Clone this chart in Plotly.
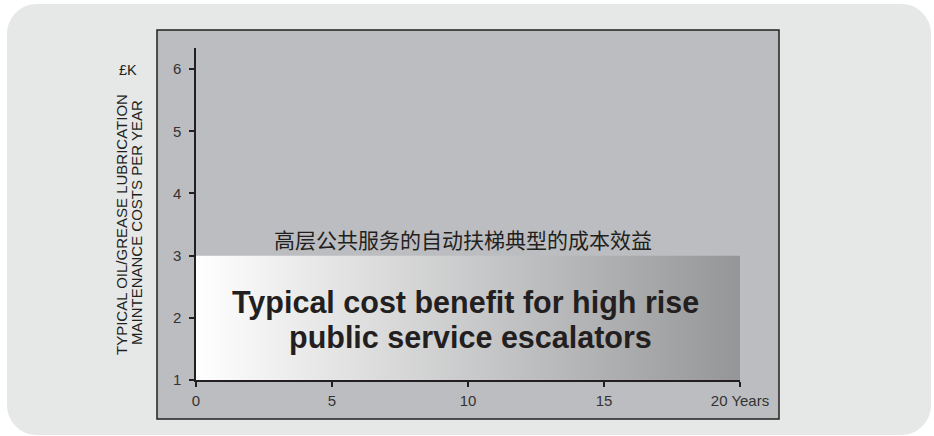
import plotly.graph_objects as go

# ---- data ----
years = [0, 20]              # span covered by the cost-benefit band
band_top = 3                 # £K upper level of band
band_base = 1                # £K base level of band
x_tickvals = [0, 5, 10, 15, 20]
x_ticktext = ["0", "5", "10", "15", "20 Years"]
y_tickvals = [1, 2, 3, 4, 5, 6]
y_ticktext = ["1", "2", "3", "4", "5", "6"]
title_cn = "高层公共服务的自动扶梯典型的成本效益"
title_en_1 = "Typical cost benefit for high rise"
title_en_2 = "public service escalators"
ytitle_1 = "TYPICAL OIL/GREASE LUBRICATION"
ytitle_2 = "MAINTENANCE COSTS PER YEAR"
unit_label = "£K"

W, H = 934, 436
L, R, T, B = 196, 740, 48, 380  # plot area in pixels
INK = "#231f20"


def px(x):
    return (x - L) / (R - L)


def py(y):
    return (B - y) / (B - T)


def rounded_rect(x0, y0, x1, y1, r):
    k = 0.5523 * r
    return (
        f"M {px(x0 + r)},{py(y0)} "
        f"L {px(x1 - r)},{py(y0)} "
        f"C {px(x1 - r + k)},{py(y0)} {px(x1)},{py(y0 + r - k)} {px(x1)},{py(y0 + r)} "
        f"L {px(x1)},{py(y1 - r)} "
        f"C {px(x1)},{py(y1 - r + k)} {px(x1 - r + k)},{py(y1)} {px(x1 - r)},{py(y1)} "
        f"L {px(x0 + r)},{py(y1)} "
        f"C {px(x0 + r - k)},{py(y1)} {px(x0)},{py(y1 - r + k)} {px(x0)},{py(y1 - r)} "
        f"L {px(x0)},{py(y0 + r)} "
        f"C {px(x0)},{py(y0 + r - k)} {px(x0 + r - k)},{py(y0)} {px(x0 + r)},{py(y0)} Z"
    )


fig = go.Figure()

band_x = [years[0], years[1], years[1], years[0], years[0]]
band_y = [band_base, band_base, band_top, band_top, band_base]
fig.add_trace(go.Scatter(
    x=band_x, y=band_y, mode="lines", fill="toself",
    line=dict(width=0, color="rgba(0,0,0,0)"),
    fillgradient=dict(type="horizontal",
                      colorscale=[[0, "#ffffff"], [1, "#959698"]]),
    hoverinfo="skip", showlegend=False,
))

shapes = [
    dict(type="path", xref="paper", yref="paper", layer="below",
         path=rounded_rect(7, 4, 931, 435, 30),
         fillcolor="#e6e7e7", line=dict(width=0)),
    dict(type="rect", xref="paper", yref="paper", layer="below",
         x0=px(157), x1=px(779), y0=py(419), y1=py(30),
         fillcolor="#bcbdc0", line=dict(color=INK, width=1.5)),
]


def ann(x, y, text, size, family="Liberation Sans", angle=0):
    return dict(x=x, y=y, xref="paper", yref="paper", text=text,
                showarrow=False, textangle=angle,
                xanchor="center", yanchor="middle",
                font=dict(family=family, size=size, color=INK))


annotations = [
    ann(px(462.5), py(239), title_cn, 21, family="Noto Sans CJK SC"),
    ann(px(465), py(302), f"<b>{title_en_1}</b>", 30.5),
    ann(px(470), py(337), f"<b>{title_en_2}</b>", 30.5),
    ann(px(121), py(225), ytitle_1, 15, angle=-90),
    ann(px(136), py(223), ytitle_2, 15, angle=-90),
    ann(px(128), py(70), unit_label, 14.5),
]

fig.update_layout(
    width=W, height=H,
    margin=dict(l=L, r=W - R, t=T, b=H - B, pad=0),
    paper_bgcolor="#ffffff", plot_bgcolor="rgba(0,0,0,0)",
    shapes=shapes, annotations=annotations, showlegend=False,
    font=dict(family="Liberation Sans", size=15, color=INK),
)
fig.update_xaxes(
    range=[0, 20], showgrid=False, zeroline=False, showline=True,
    linecolor=INK, linewidth=1.5, ticks="outside", ticklen=5, tickwidth=1.5,
    tickcolor=INK, tickvals=x_tickvals, ticktext=x_ticktext,
    tickfont=dict(size=15, color="#333333"), ticklabelstandoff=1,
)
fig.update_yaxes(
    range=[1, 6.34], showgrid=False, zeroline=False, showline=True,
    linecolor=INK, linewidth=1.5, ticks="outside", ticklen=5, tickwidth=1.5,
    tickcolor=INK, tickvals=y_tickvals, ticktext=y_ticktext,
    tickfont=dict(size=15, color="#333333"), ticklabelstandoff=5,
)

fig.write_html(
    "out.html",
    config={"displayModeBar": False},
    post_script="document.body.style.margin='0';document.body.style.padding='0';",
)
